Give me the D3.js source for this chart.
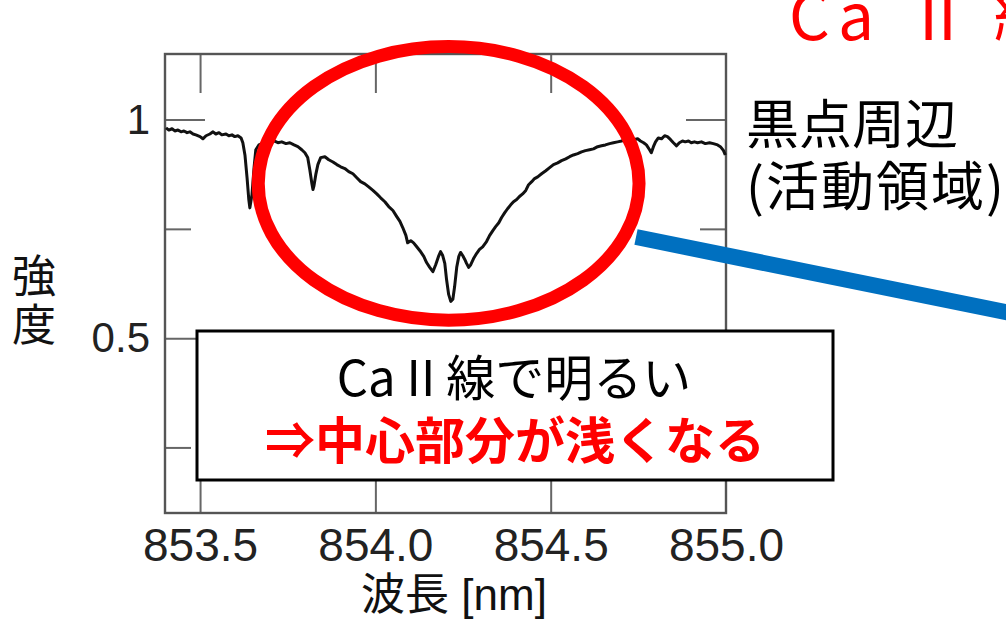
<!DOCTYPE html>
<html>
<head>
<meta charset="utf-8">
<script src="https://cdn.jsdelivr.net/npm/d3@7"></script>
<style>
  html, body { margin: 0; padding: 0; background: #fff; }
  svg { display: block; }
</style>
</head>
<body>
<svg id="chart" width="1006" height="620"></svg>
<script>
// Ca II 854.2 nm line profile near a sunspot (active region)
const wavelength = [
  853.403, 853.411, 853.420, 853.428, 853.437, 853.446, 853.454, 853.463, 853.471, 853.480,
  853.488, 853.500, 853.508, 853.517, 853.528, 853.537, 853.545, 853.554, 853.562, 853.574,
  853.582, 853.591, 853.599, 853.608, 853.617, 853.622, 853.628, 853.634, 853.639, 853.642,
  853.648, 853.654, 853.659, 853.668, 853.676, 853.688, 853.699, 853.711, 853.722, 853.733,
  853.745, 853.756, 853.768, 853.779, 853.790, 853.799, 853.807, 853.813, 853.819, 853.822,
  853.825, 853.830, 853.836, 853.844, 853.856, 853.867, 853.879, 853.890, 853.901, 853.913,
  853.924, 853.936, 853.947, 853.958, 853.970, 853.981, 853.993, 854.004, 854.015, 854.027,
  854.038, 854.050, 854.061, 854.070, 854.078, 854.087, 854.092, 854.101, 854.109, 854.118,
  854.127, 854.138, 854.146, 854.155, 854.164, 854.172, 854.181, 854.186, 854.192, 854.198,
  854.203, 854.209, 854.215, 854.221, 854.226, 854.232, 854.238, 854.243, 854.249, 854.255,
  854.260, 854.266, 854.272, 854.280, 854.289, 854.297, 854.306, 854.317, 854.326, 854.335,
  854.343, 854.352, 854.360, 854.369, 854.377, 854.386, 854.394, 854.403, 854.411, 854.420,
  854.429, 854.437, 854.446, 854.454, 854.463, 854.474, 854.486, 854.497, 854.508, 854.520,
  854.531, 854.543, 854.554, 854.565, 854.577, 854.588, 854.599, 854.611, 854.622, 854.634,
  854.645, 854.656, 854.668, 854.679, 854.691, 854.702, 854.713, 854.725, 854.736, 854.748,
  854.756, 854.765, 854.773, 854.782, 854.787, 854.793, 854.799, 854.807, 854.816, 854.825,
  854.833, 854.842, 854.850, 854.859, 854.867, 854.876, 854.884, 854.893, 854.901, 854.910,
  854.919, 854.930, 854.941, 854.953, 854.964, 854.976, 854.984, 854.993, 854.998
];
const intensity = [
  0.981, 0.976, 0.979, 0.974, 0.976, 0.972, 0.974, 0.970, 0.972, 0.967,
  0.965, 0.961, 0.956, 0.963, 0.967, 0.972, 0.967, 0.970, 0.965, 0.967,
  0.963, 0.965, 0.961, 0.963, 0.958, 0.947, 0.919, 0.867, 0.817, 0.798,
  0.828, 0.890, 0.931, 0.942, 0.945, 0.949, 0.947, 0.951, 0.947, 0.949,
  0.945, 0.947, 0.942, 0.938, 0.931, 0.924, 0.913, 0.885, 0.853, 0.840,
  0.849, 0.874, 0.897, 0.913, 0.915, 0.908, 0.903, 0.897, 0.892, 0.888,
  0.881, 0.876, 0.867, 0.858, 0.853, 0.846, 0.838, 0.830, 0.821, 0.812,
  0.801, 0.792, 0.778, 0.767, 0.753, 0.735, 0.718, 0.723, 0.718, 0.709,
  0.700, 0.687, 0.673, 0.662, 0.652, 0.668, 0.689, 0.698, 0.689, 0.671,
  0.634, 0.600, 0.584, 0.589, 0.618, 0.662, 0.687, 0.696, 0.689, 0.680,
  0.671, 0.662, 0.668, 0.682, 0.694, 0.703, 0.709, 0.721, 0.735, 0.746,
  0.755, 0.764, 0.776, 0.787, 0.796, 0.805, 0.812, 0.817, 0.824, 0.830,
  0.838, 0.851, 0.858, 0.865, 0.869, 0.876, 0.883, 0.890, 0.897, 0.901,
  0.906, 0.910, 0.915, 0.919, 0.922, 0.926, 0.929, 0.931, 0.933, 0.938,
  0.940, 0.942, 0.945, 0.947, 0.949, 0.951, 0.954, 0.956, 0.954, 0.956,
  0.951, 0.947, 0.942, 0.931, 0.924, 0.938, 0.949, 0.958, 0.956, 0.963,
  0.961, 0.954, 0.947, 0.940, 0.947, 0.951, 0.949, 0.951, 0.947, 0.949,
  0.947, 0.949, 0.945, 0.947, 0.945, 0.942, 0.938, 0.929, 0.919
];

const xTicks = [853.5, 854.0, 854.5, 855.0];
const xTickMarks = [853.5, 854.0, 854.5];
const yMajorTicks = [0.5, 1];
const yMinorTicks = [0.25, 0.75];

const xDomain = [853.4, 855.0];
const yDomain = [0.1, 1.15];

// highlighted line core (center wavelength / intensity, half-widths)
const coreCenter = [854.209, 0.854];
const coreRadius = [0.543, 0.313];

const titleParts = ["C", "a", "Ⅱ", "線"];
const regionLines = ["黒点周辺", "(活動領域)"];
const boxLines = ["Ca II 線で明るい", "⇒中心部分が浅くなる"];
const xLabel = "波長 [nm]";
const yLabelChars = ["強", "度"];

const svg = d3.select("#chart");
const plot = { left: 165, right: 726, top: 54, bottom: 513 };

const x = d3.scaleLinear().domain(xDomain).range([plot.left, plot.right]);
const y = d3.scaleLinear().domain(yDomain).range([plot.bottom, plot.top]);

const frameColor = "#555";
const sans = "'Liberation Sans', Arial, 'Noto Sans CJK JP', sans-serif";
const jp = "'Noto Sans CJK JP', sans-serif";

function styleAxis(g) {
  g.select(".domain").remove();
  g.selectAll(".tick line").attr("stroke", "#666").attr("stroke-width", 2);
  g.selectAll(".tick text").attr("fill", "#222").attr("font-family", sans);
}

// bottom axis with labels
svg.append("g")
  .attr("transform", `translate(0,${plot.bottom})`)
  .call(d3.axisBottom(x).tickValues(xTicks).tickSize(0).tickPadding(15)
        .tickFormat(d3.format(".1f")))
  .call(styleAxis)
  .call(g => g.selectAll(".tick text").attr("font-size", 46));
svg.append("g")
  .attr("transform", `translate(0,${plot.bottom})`)
  .call(d3.axisBottom(x).tickValues(xTickMarks).tickSize(-39).tickFormat(""))
  .call(styleAxis);
svg.append("g")
  .attr("transform", `translate(0,${plot.top})`)
  .call(d3.axisTop(x).tickValues(xTickMarks).tickSize(-39).tickFormat(""))
  .call(styleAxis);

// left axis
svg.append("g")
  .attr("transform", `translate(${plot.left},0)`)
  .call(d3.axisLeft(y).tickValues(yMajorTicks).tickSize(-40).tickPadding(14)
        .tickFormat(d => d === 1 ? "1" : d3.format(".1f")(d)))
  .call(styleAxis)
  .call(g => g.selectAll(".tick text").attr("font-size", 42).attr("x", -15));
svg.append("g")
  .attr("transform", `translate(${plot.left},0)`)
  .call(d3.axisLeft(y).tickValues(yMinorTicks).tickSize(-26).tickFormat(""))
  .call(styleAxis);
// right axis
svg.append("g")
  .attr("transform", `translate(${plot.right},0)`)
  .call(d3.axisRight(y).tickValues(yMajorTicks).tickSize(-40).tickFormat(""))
  .call(styleAxis);
svg.append("g")
  .attr("transform", `translate(${plot.right},0)`)
  .call(d3.axisRight(y).tickValues(yMinorTicks).tickSize(-26).tickFormat(""))
  .call(styleAxis);

// frame
svg.append("rect")
  .attr("x", plot.left).attr("y", plot.top)
  .attr("width", plot.right - plot.left).attr("height", plot.bottom - plot.top)
  .attr("fill", "none").attr("stroke", frameColor).attr("stroke-width", 2.4);

// spectrum
const spectrum = wavelength.map((w, i) => [w, intensity[i]]);
svg.append("path")
  .datum(spectrum)
  .attr("fill", "none")
  .attr("stroke", "#111")
  .attr("stroke-width", 3)
  .attr("stroke-linejoin", "round")
  .attr("d", d3.line().x(d => x(d[0])).y(d => y(d[1])));

// axis titles
svg.append("text")
  .attr("x", 454).attr("y", 610)
  .attr("text-anchor", "middle")
  .attr("font-family", sans).attr("font-size", 44).attr("fill", "#111")
  .text(xLabel);
svg.selectAll("text.ylab").data(yLabelChars).join("text")
  .attr("class", "ylab")
  .attr("x", 34).attr("y", (d, i) => 292 + i * 49)
  .attr("text-anchor", "middle")
  .attr("font-family", jp).attr("font-size", 44).attr("fill", "#111")
  .text(d => d);

// pointer line toward the title
svg.append("line")
  .attr("x1", 636).attr("y1", 237).attr("x2", 1030).attr("y2", 317)
  .attr("stroke", "#0070c0").attr("stroke-width", 16);

// ring around the line core
svg.append("ellipse")
  .attr("cx", x(coreCenter[0])).attr("cy", y(coreCenter[1]))
  .attr("rx", x(coreCenter[0] + coreRadius[0]) - x(coreCenter[0]))
  .attr("ry", y(coreCenter[1] - coreRadius[1]) - y(coreCenter[1]))
  .attr("fill", "none").attr("stroke", "#ff0000").attr("stroke-width", 13);

// explanation box
svg.append("rect")
  .attr("x", 197).attr("y", 331).attr("width", 636).attr("height", 149)
  .attr("fill", "#fff").attr("stroke", "#000").attr("stroke-width", 3);
svg.append("text")
  .attr("x", 514).attr("y", 396)
  .attr("text-anchor", "middle")
  .attr("font-family", jp).attr("font-size", 49).attr("fill", "#000")
  .text(boxLines[0]);
svg.append("text")
  .attr("x", 515).attr("y", 459)
  .attr("text-anchor", "middle")
  .attr("font-family", jp).attr("font-size", 50).attr("font-weight", "bold")
  .attr("fill", "#ff0000")
  .text(boxLines[1]);

// region label
svg.selectAll("text.region").data(regionLines).join("text")
  .attr("class", "region")
  .attr("x", 746).attr("y", (d, i) => 144 + i * 62)
  .attr("font-family", jp).attr("font-size", 53).attr("fill", "#000")
  .attr("letter-spacing", (d, i) => i === 1 ? 2 : 0)
  .text(d => d);

// title (continues beyond the right edge)
const title = svg.append("text")
  .attr("y", 40)
  .attr("font-family", jp).attr("font-size", 64).attr("fill", "#ff0000");
title.selectAll("tspan").data(titleParts).join("tspan")
  .attr("x", (d, i) => [789, 838, 906, 994][i])
  .text(d => d);
</script>
</body>
</html>
